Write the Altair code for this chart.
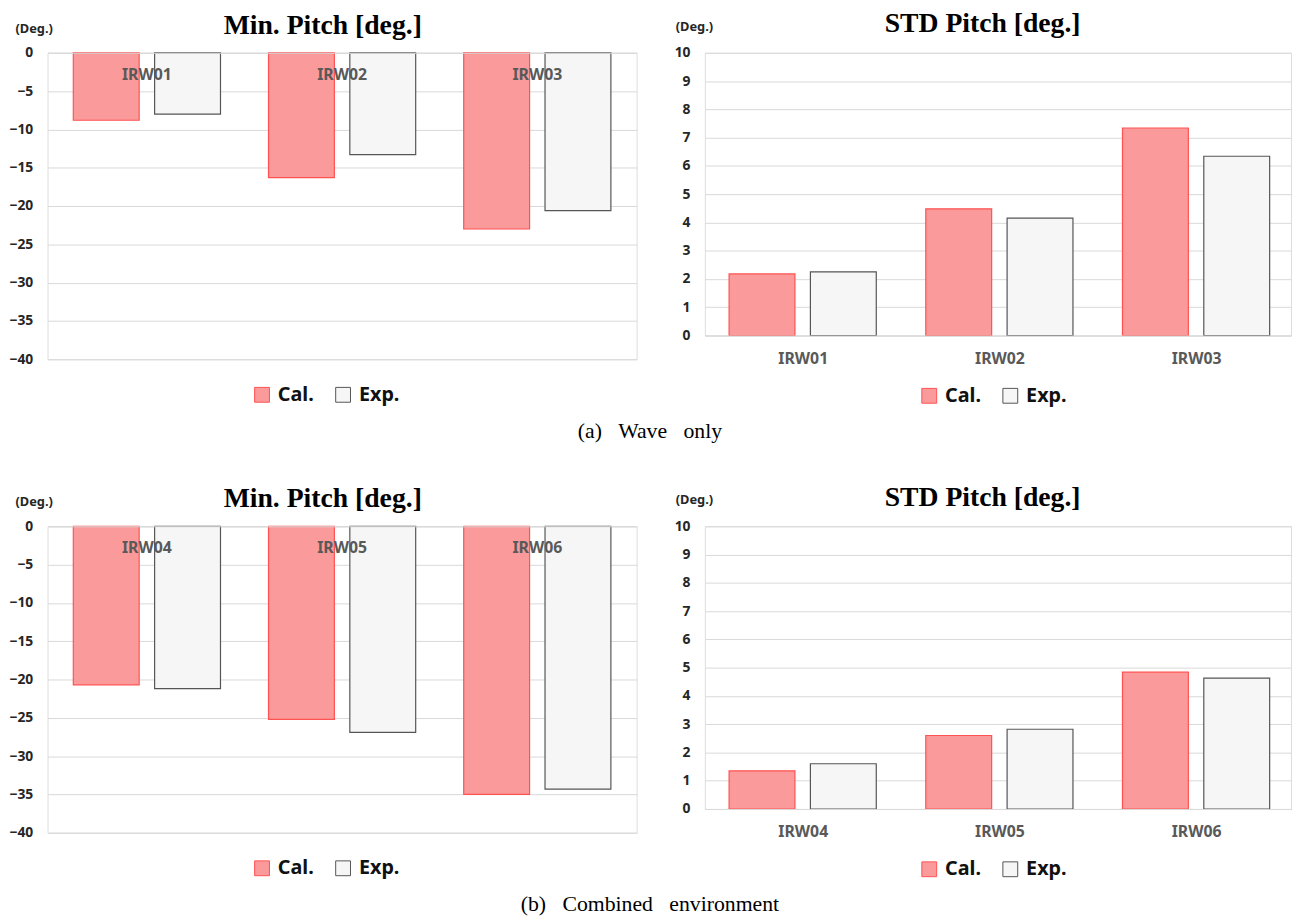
import altair as alt
import pandas as pd

# ---------------- data ----------------
series = ["Cal.", "Exp."]

cases_a = ["IRW01", "IRW02", "IRW03"]
min_cal_a = [-8.8, -16.3, -23.0]
min_exp_a = [-8.0, -13.3, -20.6]
std_cal_a = [2.18, 4.48, 7.34]
std_exp_a = [2.25, 4.15, 6.34]

cases_b = ["IRW04", "IRW05", "IRW06"]
min_cal_b = [-20.7, -25.2, -35.0]
min_exp_b = [-21.2, -26.9, -34.3]
std_cal_b = [1.35, 2.60, 4.84]
std_exp_b = [1.60, 2.82, 4.63]

min_ticks = [0, -5, -10, -15, -20, -25, -30, -35, -40]
std_ticks = [0, 1, 2, 3, 4, 5, 6, 7, 8, 9, 10]

min_title = "Min. Pitch [deg.]"
std_title = "STD Pitch [deg.]"
unit_label = "(Deg.)"
caption_a = "(a)\u00a0\u00a0\u00a0Wave\u00a0\u00a0\u00a0only"
caption_b = "(b)\u00a0\u00a0\u00a0Combined\u00a0\u00a0\u00a0environment"

# ---------------- style ----------------
FILLS = ["#FB9A9A", "#F6F6F6"]
STROKES = ["#FF5252", "#555555"]
FONT = "Noto Sans"
SERIF = "Liberation Serif"
GRID = "#D9D9D9"


def long_df(cases, cal, exp):
    rows = []
    for c, a, b in zip(cases, cal, exp):
        rows.append({"case": c, "series": series[0], "value": a})
        rows.append({"case": c, "series": series[1], "value": b})
    return pd.DataFrame(rows)


def panel(df, cases, title, domain, ticks, width, height, is_min,
          unit_x, unit_y, leg_x, leg_y, pad_outer, align):
    x_axis = alt.Axis(
        title=None, labelAngle=0, labelFont=FONT, labelFontSize=16,
        labelFontWeight="bold", labelColor="#595959", ticks=False,
        domainColor=GRID, domainWidth=1, labelPadding=14 if is_min else 15,
        labelBaseline="top", offset=-height if is_min else 0, grid=False,
        zindex=1,
    )
    y_axis = alt.Axis(
        values=ticks, title=unit_label, titleAngle=0, titleAlign="left",
        titleBaseline="middle", titleX=unit_x, titleY=unit_y, titleFont=FONT,
        titleFontSize=13, titleFontWeight="bold", titleColor="#262626",
        labelFont=FONT, labelFontSize=14, labelFontWeight="bold",
        labelColor="#262626", labelPadding=15, domain=False, ticks=False,
        grid=True, gridColor=GRID, gridWidth=1,
    )
    legend = alt.Legend(
        title=None, orient="none", legendX=leg_x, legendY=leg_y,
        direction="horizontal", symbolType="square", symbolSize=225,
        symbolStrokeWidth=1, labelFont=FONT, labelFontSize=20,
        labelFontWeight="bold", labelColor="#111111", labelOffset=6,
        columnPadding=19, padding=0,
    )
    return (
        alt.Chart(df)
        .mark_bar(strokeWidth=1.2)
        .encode(
            x=alt.X("case:N", sort=cases, axis=x_axis,
                    scale=alt.Scale(paddingInner=0.246, paddingOuter=pad_outer, align=align)),
            xOffset=alt.XOffset("series:N", sort=series,
                                scale=alt.Scale(paddingInner=0.19, paddingOuter=0)),
            y=alt.Y("value:Q", axis=y_axis,
                    scale=alt.Scale(domain=domain, nice=False, zero=True)),
            fill=alt.Fill("series:N", scale=alt.Scale(domain=series, range=FILLS), legend=legend),
            stroke=alt.Stroke("series:N", scale=alt.Scale(domain=series, range=STROKES), legend=legend),
        )
        .properties(
            width=width, height=height,
            title=alt.TitleParams(title, font=SERIF, fontSize=28, fontWeight="bold",
                                  color="#000000", anchor="middle", frame="bounds",
                                  offset=-18),
        )
    )


def row(cases, mc, me, sc, se, caption):
    left = panel(long_df(cases, mc, me), cases, min_title, [-40, 0], min_ticks,
                 596, 310, True, -33, -25, 207, 336, 0.132, 0.5)
    right = panel(long_df(cases, sc, se), cases, std_title, [0, 10], std_ticks,
                  593, 286, False, -30, -27, 217, 337, 0.113, 0.545)
    return alt.hconcat(
        left, right, spacing=36,
        title=alt.TitleParams(caption, orient="bottom", anchor="middle", font=SERIF,
                              fontSize=22, fontWeight="normal", color="#000000", offset=15),
    ).resolve_scale(fill="independent", stroke="independent", x="independent", y="independent")


row_a = row(cases_a, min_cal_a, min_exp_a, std_cal_a, std_exp_a, caption_a)
row_b = row(cases_b, min_cal_b, min_exp_b, std_cal_b, std_exp_b, caption_b)

chart = (
    alt.vconcat(row_a, row_b, spacing=41)
    .properties(padding={"left": 0, "top": -4, "right": 0, "bottom": 0})
    .configure_view(stroke=None)
    .configure(background="white")
)

chart.save("out.html", embed_options={"renderer": "svg", "actions": False})
